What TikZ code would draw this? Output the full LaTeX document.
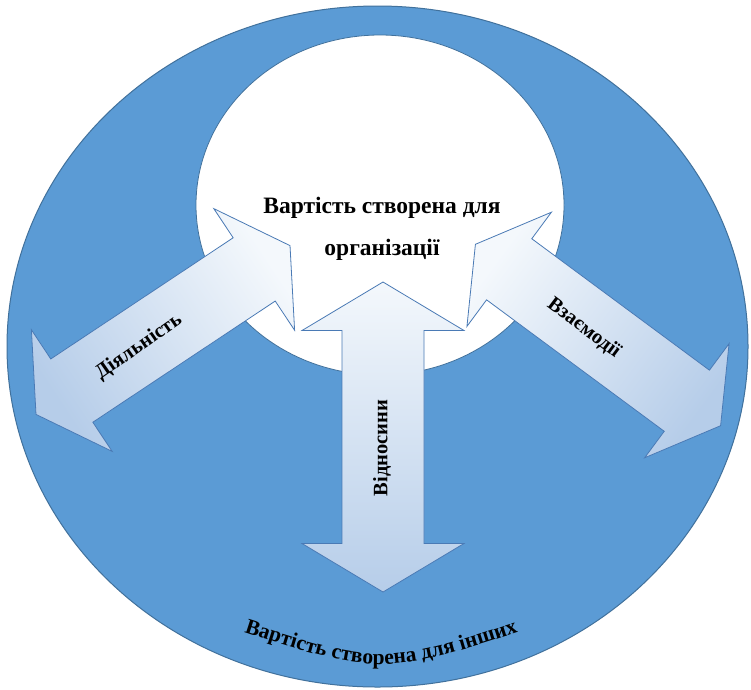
\documentclass[tikz,border=0pt]{standalone}
\usepackage{fontspec}
\setmainfont{Liberation Serif}
\usetikzlibrary{decorations.text}
\definecolor{bluefill}{HTML}{5B9BD5}
\definecolor{blueline}{HTML}{41719C}
\definecolor{arrline}{HTML}{4A7AB5}
\definecolor{arrlight}{HTML}{F4F8FC}
\definecolor{arrdark}{HTML}{B6CDE9}
% double arrow in local coordinates: #1 = half distance between barb lines,
% #2 = shaft half width, #3 = head half width, #4 = head length
\newcommand\dblarrowshape[4]{%
  (#1+#4,0) -- (#1,#3) -- (#1,#2) -- (-#1,#2) -- (-#1,#3) -- (-#1-#4,0)
  -- (-#1,-#3) -- (-#1,-#2) -- (#1,-#2) -- (#1,-#3) -- cycle}
\tikzset{
  outerring/.style={fill=bluefill, draw=blueline, line width=1pt},
  innerdisc/.style={fill=white, draw=blueline, line width=0.8pt},
  arrowbody/.style={top color=arrlight, bottom color=arrdark, draw=arrline, line width=0.8pt},
  lbl/.style={font=\fontsize{20.5}{24}\selectfont\bfseries, inner sep=0pt},
  titletext/.style={font=\fontsize{23.5}{28}\selectfont\bfseries, inner sep=0pt, anchor=base},
}
\begin{document}
\begin{tikzpicture}[x=1pt, y=-1pt]
\useasboundingbox (0,0) rectangle (751,689);
\fill[white] (0,0) rectangle (751,689);
% outer ellipse and inner disc
\path[outerring] (377.5,346.5) ellipse [x radius=370.5, y radius=340.5];
\path[innerdisc] (380,205) ellipse [x radius=184, y radius=170];
% arrows
\begin{scope}[shift={(163,330)}, rotate=33.6]
  \path[arrowbody, shading angle=-56.4] \dblarrowshape{109.5}{38}{73}{43};
\end{scope}
\begin{scope}[shift={(598,335)}, rotate=-36.5]
  \path[arrowbody, shading angle=53.5] \dblarrowshape{110.5}{38}{71}{42};
\end{scope}
\begin{scope}[shift={(383,437)}, rotate=90]
  \path[arrowbody, shading angle=0] \dblarrowshape{106.5}{41}{81}{48.5};
\end{scope}
% texts
\node[titletext] (t1) at (382,213) {Вартість створена для};
\node[titletext] (t2) at (382,255) {організації};
\node[lbl, rotate=35] (act) at (139,347) {Діяльність};
\node[lbl, rotate=-37] (inter) at (584,328) {Взаємодії};
\node[lbl, rotate=90] (rel) at (382,448) {Відносини};
\coordinate (bl) at (225,626);
\coordinate (bc) at (381,677);
\coordinate (br) at (537,626);
\path[decorate, decoration={text along path, text align=center,
  text={|\fontsize{21.5}{26}\selectfont\bfseries|Вартість створена для інших}}]
  (bl) .. controls (bc) .. (br);
\end{tikzpicture}
\end{document}
